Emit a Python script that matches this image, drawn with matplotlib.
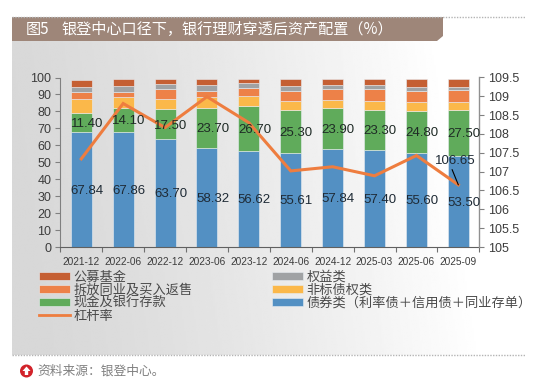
import numpy as np
import matplotlib
matplotlib.use("Agg")
import matplotlib.pyplot as plt
from matplotlib.patches import Patch, Circle, Polygon
from matplotlib.lines import Line2D

plt.rcParams['font.family'] = ['Noto Sans CJK SC', 'DejaVu Sans']

categories = ['2021-12', '2022-06', '2022-12', '2023-06', '2023-12',
              '2024-06', '2024-12', '2025-03', '2025-06', '2025-09']
bonds = [67.84, 67.86, 63.70, 58.32, 56.62, 55.61, 57.84, 57.40, 55.60, 53.50]
cash = [11.40, 14.10, 17.50, 23.70, 26.70, 25.30, 23.90, 23.30, 24.80, 27.50]
nonstd = [8.2, 6.8, 6.2, 6.6, 5.9, 5.4, 5.0, 5.3, 5.0, 4.7]
interbank = [4.0, 2.9, 5.7, 3.5, 4.7, 5.7, 6.3, 7.0, 6.6, 6.9]
equity = [3.1, 3.2, 3.2, 3.6, 2.8, 3.0, 2.5, 2.5, 2.4, 2.0]
funds = [4.1, 4.1, 2.7, 3.3, 2.3, 3.9, 3.4, 3.4, 4.5, 4.3]
leverage = [107.34, 108.81, 108.17, 108.99, 108.30, 107.02, 107.13, 106.89, 107.43, 106.65]

series_names = ['债券类（利率债＋信用债＋同业存单）', '现金及银行存款', '非标债权类',
                '拆放同业及买入返售', '权益类', '公募基金']
series_values = [bonds, cash, nonstd, interbank, equity, funds]
series_colors = ['#5390C3', '#60AB5B', '#FBB84A', '#ED8148', '#A0A2A4', '#C55F33']
line_color = '#EE7D3F'
text_color = '#3C3C3C'
num_font = 'Liberation Sans'

W, H = 550, 386
fig = plt.figure(figsize=(W / 100, H / 100), dpi=100, facecolor='white')

# Page decoration in pixel coordinates
bg = fig.add_axes([0, 0, 1, 1], zorder=0)
bg.axis('off')
PX0, PX1, PY0, PY1 = 12, 530, 41, 355
gx = np.linspace(0, 1, 300)
gy = np.linspace(0, 1, 100)
X, Y = np.meshgrid(gx, gy)
t = np.clip((X * 1.15 + (0.5 - Y) * 0.10), 0, 1)
grad = 0.845 + (1.0 - 0.845) * t ** 1.3
bg.imshow(grad, extent=[PX0, PX1, PY1, PY0], cmap='gray', vmin=0, vmax=1,
          aspect='auto', interpolation='bilinear', zorder=1)
bg.set_xlim(0, W)
bg.set_ylim(H, 0)
bg.add_patch(Polygon([(PX0, 17), (443, 17), (443, 36), (437, 41), (PX0, 41)],
                     fc='#9E8679', ec='none', zorder=2))
bg.plot([PX0, PX1 - 5], [17, 17], color='#B4B4B4', lw=1.0, ls=(0, (1, 1)), zorder=3)
bg.text(26, 29.5, '图5', color='white', fontsize=10.9, va='center', ha='left', zorder=3)
bg.text(61, 29.5, '银登中心口径下，银行理财穿透后资产配置（%）', color='white', fontsize=10.9,
        va='center', ha='left', zorder=3)
bg.plot([PX0, PX1 - 5], [355, 355], color='#B4B4B4', lw=1.0, ls=(0, (1, 1)), zorder=2)
bg.add_patch(Circle((26.5, 371), 6.5, fc='#D2232A', ec='none', zorder=3))
bg.add_patch(Polygon([(26.5, 366.5), (30.5, 371), (28.2, 371), (28.2, 375), (24.8, 375),
                      (24.8, 371), (22.5, 371)], fc='white', ec='none', zorder=4))
bg.text(37, 371, '资料来源：银登中心。', color='#808080', fontsize=9.2, va='center', ha='left', zorder=3)

# Main axes
L, R, T, B = 60.3, 479.3, 77.5, 247.0
ax = fig.add_axes([L / W, 1 - B / H, (R - L) / W, (B - T) / H], zorder=2)
ax.patch.set_alpha(0)
x = np.arange(len(categories))
bottom = np.zeros(len(categories))
for vals, c in zip(series_values, series_colors):
    ax.bar(x, vals, bottom=bottom, width=0.5, color=c, edgecolor='#E8EDF2', linewidth=0.4, zorder=2)
    bottom += np.array(vals)
ax.set_xlim(-0.5, len(categories) - 0.5)
ax.set_ylim(0, 100)
ax.set_yticks(range(0, 101, 10))
ax.set_xticks(np.arange(-0.5, len(categories), 1))
ax.set_xticklabels([])
ax.set_xticks(x, minor=True)
ax.set_xticklabels(categories, minor=True, fontname=num_font, fontsize=7.3, color=text_color)
ax.tick_params(axis='x', which='minor', length=0, pad=7.5)
ax.tick_params(axis='x', which='major', length=3.5, color='#707070', width=0.8)
ax.tick_params(axis='y', length=3.5, color='#808080', width=0.8, pad=3, labelcolor=text_color)
for lab in ax.get_yticklabels():
    lab.set_fontname(num_font)
    lab.set_fontsize(9)
for s in ['top', 'right']:
    ax.spines[s].set_visible(False)
ax.spines['left'].set_color('#808080')
ax.spines['bottom'].set_color('#606060')

ax2 = ax.twinx()
ax2.patch.set_alpha(0)
ax2.plot(x, leverage, color=line_color, lw=2.2, solid_joinstyle='miter', zorder=4)
ax2.set_ylim(105, 109.5)
rt = np.arange(105, 109.51, 0.5)
ax2.set_yticks(rt)
ax2.set_yticklabels([f'{v:g}' for v in rt], fontname=num_font, fontsize=9, color=text_color)
ax2.tick_params(axis='y', length=3.5, color='#808080', width=0.8, pad=3)
for s in ['top', 'left', 'bottom']:
    ax2.spines[s].set_visible(False)
ax2.spines['right'].set_color('#909090')
ax2.spines['right'].set_linewidth(1.0)

# Bar labels sit above the line, as in the reference
for i in range(len(categories)):
    ax2.annotate(f'{bonds[i]:.2f}', (i, bonds[i] / 2), xycoords=ax.transData, xytext=(4, -1),
                 textcoords='offset points', ha='center', va='center', fontname=num_font,
                 fontsize=9.5, color='#1E2A35', zorder=5)
    ax2.annotate(f'{cash[i]:.2f}', (i, bonds[i] + cash[i] / 2), xycoords=ax.transData, xytext=(4, -1),
                 textcoords='offset points', ha='center', va='center', fontname=num_font,
                 fontsize=9.5, color='#1E2A25', zorder=5)

ax2.annotate(f'{leverage[-1]:.2f}', (x[-1], leverage[-1]), xytext=(-2.5, 17.5),
             textcoords='offset points', ha='center', va='center', fontname=num_font,
             fontsize=9.5, color='#1E2A35', zorder=6)
ax2.annotate('', (x[-1], leverage[-1]), xytext=(-4.5, 11), textcoords='offset points',
             arrowprops=dict(arrowstyle='-', color='black', lw=0.8, shrinkA=0, shrinkB=0), zorder=6)

# Legend (column-wise fill gives the reference row order)
idx = [5, 3, 1]
handles = [Patch(fc=series_colors[i], ec='#E8EDF2', lw=0.4) for i in idx]
labels = [series_names[i] for i in idx]
handles.append(Line2D([0], [0], color=line_color, lw=2))
labels.append('杠杆率')
for i in [4, 2, 0]:
    handles.append(Patch(fc=series_colors[i], ec='#E8EDF2', lw=0.4))
    labels.append(series_names[i])
fig.legend(handles, labels, ncol=2, loc='upper left', bbox_to_anchor=(39 / W, 1 - 270.5 / H),
           bbox_transform=fig.transFigure, frameon=False, fontsize=9.5, labelcolor='#4A4A4A',
           handlelength=2.35, handleheight=0.5, handletextpad=0.25, columnspacing=6.05,
           labelspacing=0.0, borderpad=0, borderaxespad=0)

fig.savefig('out.png', dpi=100)
